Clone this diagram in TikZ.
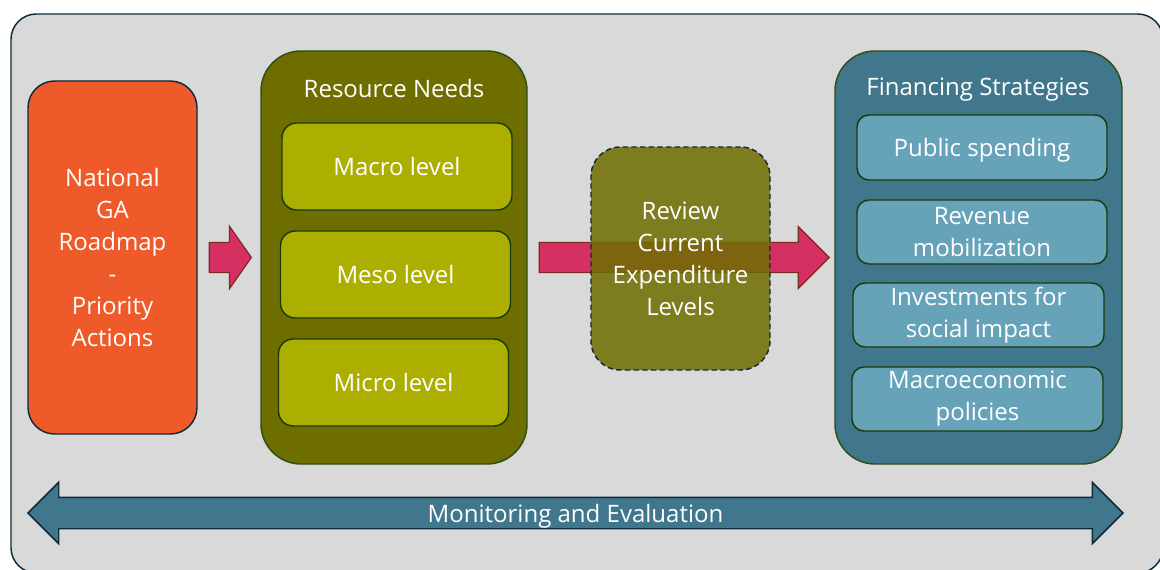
\documentclass[tikz,border=0pt]{standalone}
\usepackage{fontspec}
\setmainfont{Open Sans}
\usetikzlibrary{shapes.arrows,calc}

\definecolor{framegray}{HTML}{D9D9D9}
\definecolor{navyline}{HTML}{0E2A3B}
\definecolor{roadorange}{HTML}{EE5A29}
\definecolor{arrowpink}{HTML}{D63062}
\definecolor{arrowbrown}{HTML}{7A2A1E}
\definecolor{needsolive}{HTML}{6E6E00}
\definecolor{levellime}{HTML}{ADAF00}
\definecolor{greenline}{HTML}{2D5016}
\definecolor{darkgreen}{HTML}{1A3A0A}
\definecolor{financeteal}{HTML}{41778C}
\definecolor{strategyblue}{HTML}{66A2B8}

\tikzset{
  boxsize/.style 2 args={minimum width=#1*0.75pt, minimum height=#2*0.75pt},
  txt/.style={text=white, align=center, inner sep=0pt, font=\fontsize{18}{24}\selectfont},
  panel/.style={draw=greenline, line width=1.1pt, rounded corners=30pt, txt},
  levelbox/.style={draw=darkgreen, line width=1.1pt, fill=levellime, rounded corners=11pt, txt},
  strategybox/.style={draw=darkgreen, line width=1.1pt, fill=strategyblue, rounded corners=9pt, txt},
  pinkarrow/.style={single arrow, draw=arrowbrown, fill=arrowpink, line width=0.9pt, inner xsep=0pt,
    inner ysep=14.5*0.75pt, single arrow head extend=16*0.75pt, anchor=tail},
}

\begin{document}
\begin{tikzpicture}[x=0.75pt,y=-0.75pt]
\useasboundingbox (0,0) rectangle (1160,570);

% background frame
\node[draw=navyline, line width=1.1pt, fill=framegray, rounded corners=19pt, boxsize={1152}{559}] (frame) at (587,293.5) {};

% roadmap
\node[panel, draw=navyline, fill=roadorange, rounded corners=20pt, boxsize={169}{353}] (roadmap) at (112.5,257.5)
  {National\\GA\\Roadmap\\-\\Priority\\Actions};

% resource needs
\node[panel, fill=needsolive, boxsize={266}{413}] (needs) at (394,257.5) {};
\node[txt] (needstitle) at (394,89) {Resource Needs};
\node[levelbox, boxsize={230}{87}] (macro) at (397,166.5) {Macro level};
\node[levelbox, boxsize={230}{87}] (meso) at (395.5,274.5) {Meso level};
\node[levelbox, boxsize={230}{87}] (micro) at (393.5,382.5) {Micro level};

% financing strategies
\node[panel, fill=financeteal, boxsize={287}{413}] (finance) at (978.5,257.5) {};
\node[txt] (financetitle) at (978,90) {Financing Strategies};
\node[strategybox, text depth=0pt, boxsize={250}{65}] (public) at (982,147.5) {Public spending};
\node[strategybox, boxsize={250}{64}] (revenue) at (982,232) {Revenue\\mobilization};
\node[strategybox, boxsize={251}{64}] (invest) at (978.5,315) {Investments for\\social impact};
\node[strategybox, boxsize={251}{64}] (policies) at (977.5,399) {Macroeconomic\\policies};

% arrows
\node[pinkarrow, minimum height=42*0.75pt, single arrow tip angle=110] (arrowA)
  at ($(roadmap.east)+(11,0)$) {};
\node[pinkarrow, minimum height=290*0.75pt] (arrowB)
  at ($(needs.east)+(11,0)$) {};

% review (drawn over the arrow)
\node[draw=navyline, line width=1.1pt, dash pattern=on 4pt off 2.5pt, fill=needsolive, fill opacity=0.85,
  text opacity=1, rounded corners=22pt, txt, boxsize={179}{223}] (review) at (680.5,258.5)
  {Review\\Current\\Expenditure\\Levels};

% monitoring
\node[double arrow, draw=navyline, line width=1.1pt, fill=financeteal, inner xsep=0pt, inner ysep=15*0.75pt,
  double arrow head extend=15*0.75pt, minimum height=1095*0.75pt] (mearrow) at (575.5,513) {};
\node[txt] (melabel) at ($(mearrow.center)+(0,3)$) {Monitoring and Evaluation};
\end{tikzpicture}
\end{document}
